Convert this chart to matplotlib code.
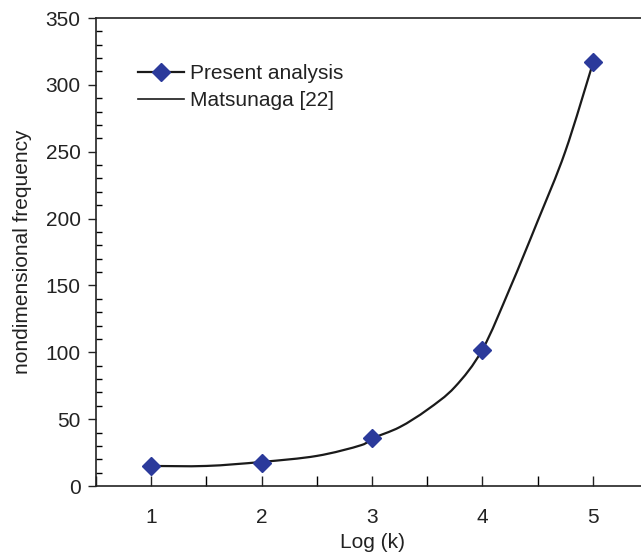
import matplotlib
matplotlib.use("Agg")
import matplotlib.pyplot as plt
from matplotlib.ticker import MultipleLocator
from matplotlib.path import Path
from matplotlib.patches import PathPatch

plt.rcParams['font.family'] = ['Liberation Sans', 'DejaVu Sans']

# Present analysis
x_present = [1, 2, 3, 4, 5]
y_present = [15, 17.5, 36, 101.5, 317]

# Matsunaga [22]
x_mats = [1.0, 1.5, 2.0, 2.5, 2.9, 3.0, 3.25, 3.5, 3.75, 4.0, 4.25, 4.5, 4.75, 5.0]
y_mats = [15, 15, 18, 22.5, 30.5, 35.5, 44, 57, 74, 102, 148, 198, 250, 316]

xticks = [1, 2, 3, 4, 5]
yticks = [0, 50, 100, 150, 200, 250, 300, 350]

W, H = 641, 558
FS = 15
fig = plt.figure(figsize=(W / 100, H / 100), dpi=100)
ax = fig.add_axes([96 / W, (H - 486) / H, 552 / W, 468 / H])
ax.set_xlim(0.5, 5.5)
ax.set_ylim(0, 350)


def smooth_path(xs, ys, t=1 / 6):
    # Excel-like smoothed line: cubic Bezier segments (Catmull-Rom control points)
    verts = [(xs[0], ys[0])]
    codes = [Path.MOVETO]
    n = len(xs)
    for i in range(n - 1):
        x0, y0 = (xs[i - 1], ys[i - 1]) if i > 0 else (xs[i], ys[i])
        x1, y1 = xs[i], ys[i]
        x2, y2 = xs[i + 1], ys[i + 1]
        x3, y3 = (xs[i + 2], ys[i + 2]) if i + 2 < n else (x2, y2)
        c1 = (x1 + (x2 - x0) * t, y1 + (y2 - y0) * t)
        c2 = (x2 - (x3 - x1) * t, y2 - (y3 - y1) * t)
        verts += [c1, c2, (x2, y2)]
        codes += [Path.CURVE4] * 3
    return Path(verts, codes)


ax.add_patch(PathPatch(smooth_path(x_mats, y_mats), fill=False,
                       edgecolor='#1a1a1a', lw=1.6, zorder=2))
ax.plot(x_present, y_present, linestyle='none', marker='D', ms=9,
        color='#2b3a9b', mec='#2b3a9b', zorder=3)
h1, = ax.plot([], [], color='#1a1a1a', lw=1.6, marker='D', ms=9,
              mfc='#2b3a9b', mec='#2b3a9b')
h2, = ax.plot([], [], color='#1a1a1a', lw=1.2)

ax.set_xticks(xticks)
ax.set_yticks(yticks)
ax.xaxis.set_minor_locator(MultipleLocator(0.5))
ax.yaxis.set_minor_locator(MultipleLocator(10))

ax.tick_params(axis='x', which='major', direction='in', length=7, width=1,
               labelsize=FS, pad=16, colors='#222222')
ax.tick_params(axis='x', which='minor', direction='in', length=7, width=1)
ax.tick_params(axis='y', which='major', direction='out', length=6, width=1,
               labelsize=FS, pad=5, colors='#222222')
ax.tick_params(axis='y', which='minor', direction='in', length=4, width=1)

for s in ['left', 'bottom', 'top']:
    ax.spines[s].set_linewidth(1.2)
    ax.spines[s].set_color('#222222')
ax.spines['right'].set_visible(False)

ax.set_xlabel('Log (k)', fontsize=FS, color='#222222', labelpad=4)
ax.set_ylabel('nondimensional frequency', fontsize=FS, color='#222222', labelpad=10)

leg = ax.legend([h1, h2], ['Present analysis', 'Matsunaga [22]'],
                loc='upper left', bbox_to_anchor=(0.042, 0.942), frameon=False,
                fontsize=FS, handlelength=2.2, handletextpad=0.3,
                labelspacing=0.4)
for t in leg.get_texts():
    t.set_color('#222222')

fig.savefig('out.png', dpi=100)
